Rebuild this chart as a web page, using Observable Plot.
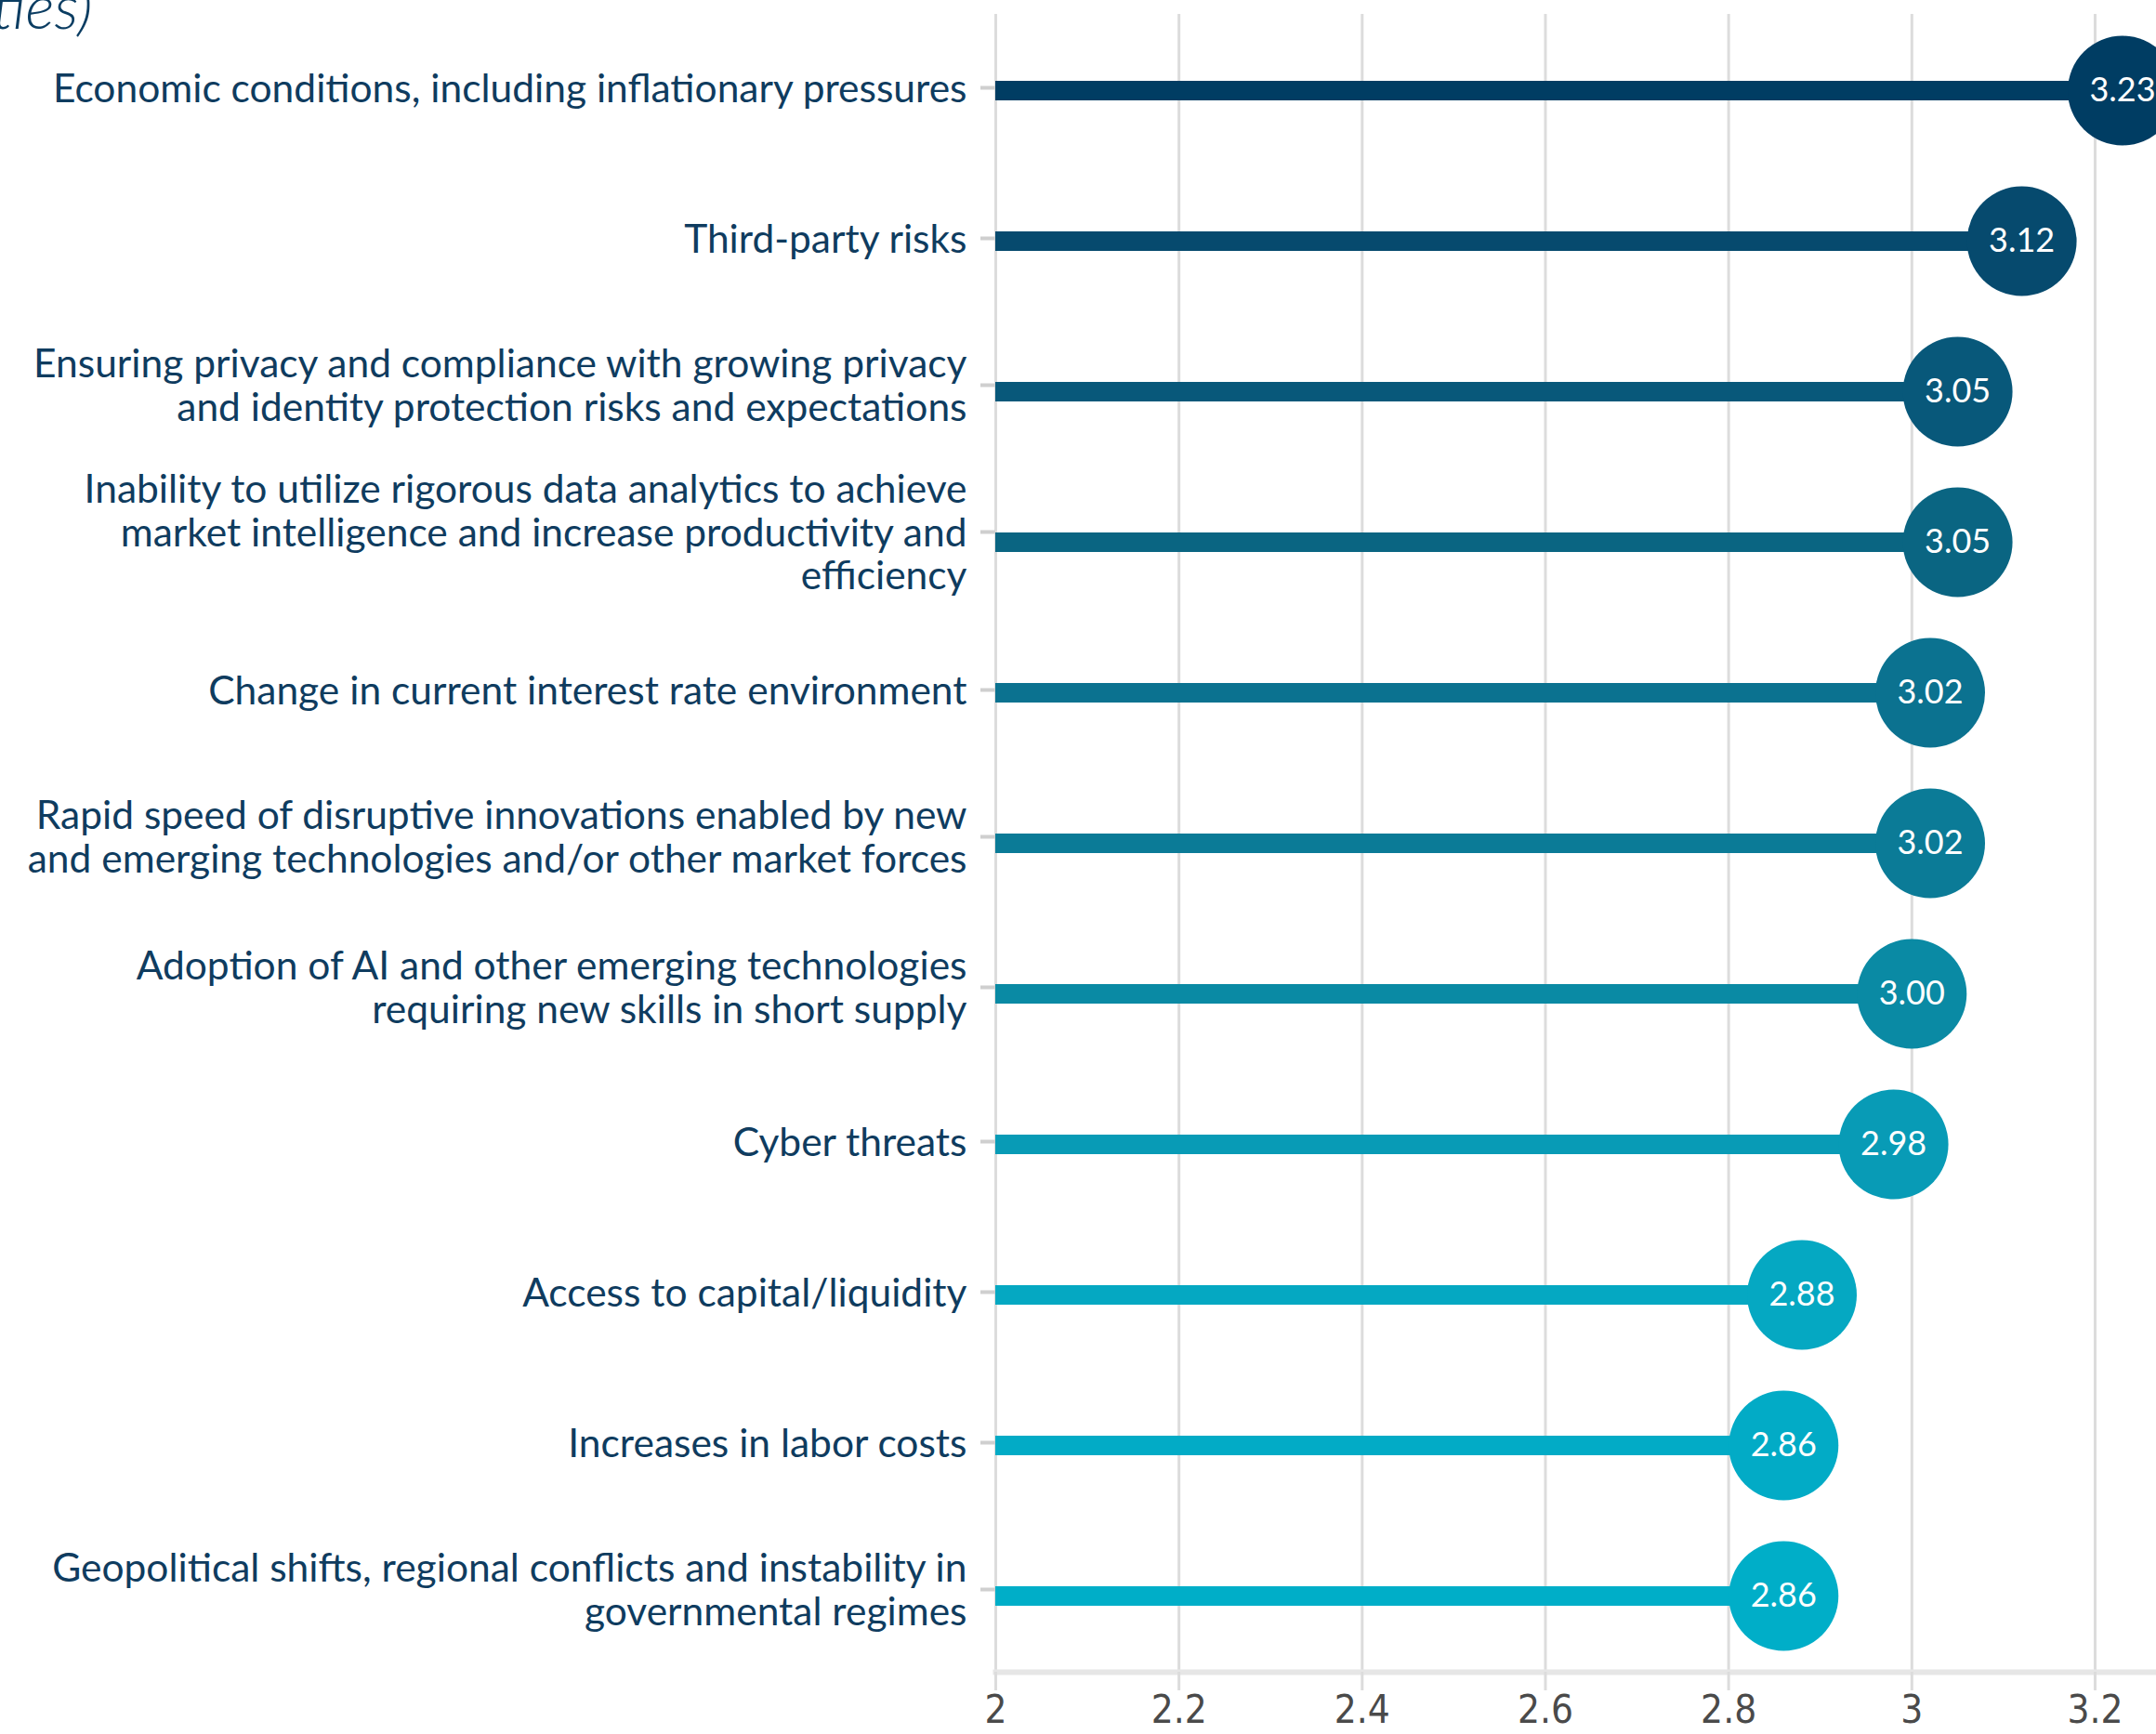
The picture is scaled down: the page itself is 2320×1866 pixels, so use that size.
<!DOCTYPE html>
<html><head><meta charset="utf-8">
<script src="https://cdn.jsdelivr.net/npm/d3@7"></script>
<script src="https://cdn.jsdelivr.net/npm/@observablehq/plot@0.6"></script>
<style>
html,body{margin:0;padding:0;background:#fff;overflow:hidden;}
#wrap{position:relative;width:2320px;height:1866px;overflow:hidden;}
#sub{position:absolute;left:-8px;top:-34px;font:italic 300 66px Lato, sans-serif;color:#0b3d62;white-space:nowrap;line-height:1.2;}
.xticks text{font-stretch:condensed;}
</style></head><body>
<div id="wrap"><div id="chart"></div><div id="sub"></div></div>
<script>
const subtitleFragment = "ties)";
const categories = [
  "Economic conditions, including inflationary pressures",
  "Third-party risks",
  "Ensuring privacy and compliance with growing privacy\nand identity protection risks and expectations",
  "Inability to utilize rigorous data analytics to achieve\nmarket intelligence and increase productivity and\nefficiency",
  "Change in current interest rate environment",
  "Rapid speed of disruptive innovations enabled by new\nand emerging technologies and/or other market forces",
  "Adoption of AI and other emerging technologies\nrequiring new skills in short supply",
  "Cyber threats",
  "Access to capital/liquidity",
  "Increases in labor costs",
  "Geopolitical shifts, regional conflicts and instability in\ngovernmental regimes"
];
const values = [3.23, 3.12, 3.05, 3.05, 3.02, 3.02, 3.00, 2.98, 2.88, 2.86, 2.86];
const xTicks = [2, 2.2, 2.4, 2.6, 2.8, 3, 3.2];

document.getElementById("sub").textContent = subtitleFragment;
const data = categories.map((c, i) => ({category: c, value: values[i], rank: i}));
const lineCount = c => c.split("\n").length;

const yAxes = [1, 2, 3].map(n =>
  Plot.axisY(categories.filter(c => lineCount(c) === n), {
    label: null, tickSize: 16, tickPadding: 15, fontSize: 42.5, fill: "#0f3c5f",
    lineHeight: 1.105, dy: -3 - 4 * (n - 1), stroke: "#cfcfcf", strokeWidth: 4
  })
);

const plot = Plot.plot({
  width: 2320, height: 1866,
  marginLeft: 1071, marginRight: 0, marginTop: 15, marginBottom: 67,
  style: {fontFamily: "Lato, sans-serif", background: "transparent", overflow: "visible"},
  x: {domain: [2, 3.267], axis: null},
  y: {type: "point", domain: categories, padding: 0.5, axis: null},
  color: {
    type: "linear",
    domain: d3.range(categories.length),
    range: ["#003d63", "#064a6e", "#08587a", "#0a6582", "#0b7290", "#0b7b97",
            "#0a8aa4", "#089bb6", "#05a8c2", "#02abc6", "#00aec8"]
  },
  marks: [
    Plot.gridX(xTicks, {stroke: "#dcdcdc", strokeWidth: 3, strokeOpacity: 1}),
    Plot.frame({anchor: "bottom", stroke: "#e6e6e6", strokeWidth: 6}),
    Plot.axisX(xTicks, {label: null, tickSize: 20, stroke: "#dcdcdc", strokeWidth: 3, tickPadding: 5,
      fontSize: 42, fill: "#4a4a4a", tickFormat: d => String(d), className: "xticks",
      fontFamily: "'Liberation Sans Narrow', 'DejaVu Sans Condensed', 'DejaVu Sans', sans-serif"}),
    ...yAxes,
    Plot.ruleY(data, {y: "category", x1: 2, x2: "value", stroke: "rank", strokeWidth: 21}),
    Plot.dot(data, {y: "category", x: "value", r: 59, fill: "rank"}),
    Plot.text(data, {y: "category", x: "value", text: d => d.value.toFixed(2), fill: "white", fontSize: 36})
  ]
});
document.getElementById("chart").appendChild(plot);
</script>
</body></html>
